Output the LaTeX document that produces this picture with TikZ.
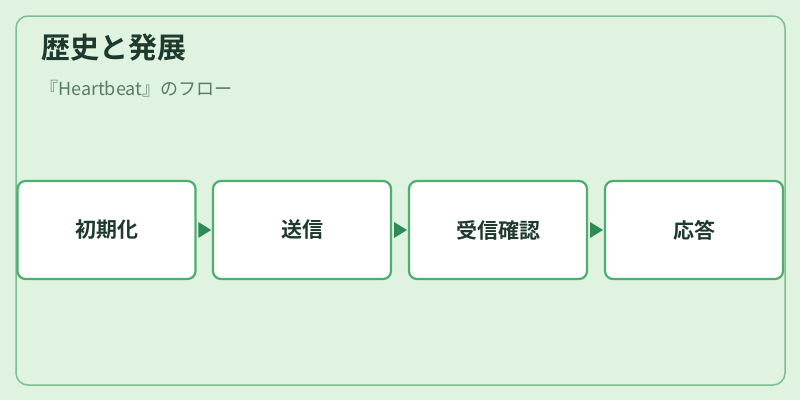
\documentclass[tikz,border=0pt]{standalone}
\usepackage{fontspec}
\newfontfamily\jp{Noto Sans CJK JP}
\newfontfamily\jpb{Noto Sans CJK JP Bold}
\definecolor{bgc}{HTML}{E0F2E0}
\definecolor{framec}{HTML}{7DBF8E}
\definecolor{boxc}{HTML}{4CAF6E}
\definecolor{arrc}{HTML}{2E8B57}
\definecolor{titlec}{HTML}{1E3A2E}
\definecolor{subc}{HTML}{5A7A6A}
\tikzset{
  stepbox/.style={draw=boxc, line width=2.2pt, fill=white, rounded corners=8pt,
    minimum width=178pt, minimum height=98pt, inner sep=0pt,
    font=\jpb\fontsize{21pt}{24pt}\selectfont, text=titlec},
  arr/.style={fill=arrc, draw=none}
}
\begin{document}
\begin{tikzpicture}[x=1pt,y=-1pt]
\useasboundingbox (0,0) rectangle (800,400);
\fill[bgc] (0,0) rectangle (800,400);
\draw[framec, line width=1.5pt, rounded corners=12pt, fill=bgc] (16,16) rectangle (785,385);
\node[anchor=base west, inner sep=0pt, text=titlec, font=\jpb\fontsize{29pt}{33pt}\selectfont] (title) at (41,58) {歴史と発展};
\node[anchor=base west, inner sep=0pt, text=subc, font=\jp\fontsize{18pt}{21pt}\selectfont] (sub) at (40,95) {『Heartbeat』のフロー};
\node[stepbox] (b1) at (106.5,230) {初期化};
\node[stepbox] (b2) at (302,230) {送信};
\node[stepbox] (b3) at (498,230) {受信確認};
\node[stepbox] (b4) at (694,230) {応答};
\foreach \a/\b [count=\i] in {b1/b2,b2/b3,b3/b4}{
  \path (\a.east) -- (\b.west) coordinate[pos=0.5] (m\i);
  \fill[arr] ([xshift=-6pt,yshift=-8pt]m\i) -- ([xshift=7pt]m\i) -- ([xshift=-6pt,yshift=8pt]m\i) -- cycle;
}
\end{tikzpicture}
\end{document}
